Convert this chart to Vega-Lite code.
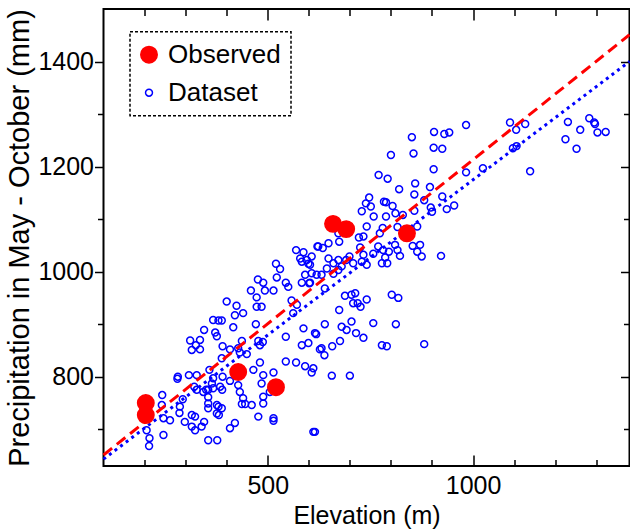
{
  "$schema": "https://vega.github.io/schema/vega-lite/v6.json",
  "width": 526,
  "height": 457,
  "autosize": {"type": "none"},
  "padding": {"left": 103.5, "top": 9, "right": 0.5, "bottom": 65},
  "background": "white",
  "datasets": {
    "pts": [
      {"s":"Dataset","elev":1090,"precip":1284},{"s":"Dataset","elev":1127,"precip":1281},{"s":"Dataset","elev":1105,"precip":1270},{"s":"Dataset","elev":983,"precip":1279},{"s":"Dataset","elev":905,"precip":1266},{"s":"Dataset","elev":930,"precip":1262},{"s":"Dataset","elev":942,"precip":1265},{"s":"Dataset","elev":851,"precip":1256},{"s":"Dataset","elev":1231,"precip":1285},{"s":"Dataset","elev":1283,"precip":1292},{"s":"Dataset","elev":1295,"precip":1284},{"s":"Dataset","elev":1297,"precip":1281},{"s":"Dataset","elev":1261,"precip":1270},{"s":"Dataset","elev":1303,"precip":1265},{"s":"Dataset","elev":1323,"precip":1266},{"s":"Dataset","elev":1225,"precip":1252},{"s":"Dataset","elev":1252,"precip":1234},{"s":"Dataset","elev":1097,"precip":1235},{"s":"Dataset","elev":1106,"precip":1239},{"s":"Dataset","elev":904,"precip":1236},{"s":"Dataset","elev":925,"precip":1234},{"s":"Dataset","elev":855,"precip":1225},{"s":"Dataset","elev":800,"precip":1222},{"s":"Dataset","elev":1139,"precip":1191},{"s":"Dataset","elev":1024,"precip":1197},{"s":"Dataset","elev":983,"precip":1189},{"s":"Dataset","elev":904,"precip":1195},{"s":"Dataset","elev":770,"precip":1184},{"s":"Dataset","elev":792,"precip":1177},{"s":"Dataset","elev":859,"precip":1168},{"s":"Dataset","elev":820,"precip":1157},{"s":"Dataset","elev":895,"precip":1161},{"s":"Dataset","elev":857,"precip":1147},{"s":"Dataset","elev":925,"precip":1143},{"s":"Dataset","elev":881,"precip":1136},{"s":"Dataset","elev":747,"precip":1141},{"s":"Dataset","elev":739,"precip":1130},{"s":"Dataset","elev":751,"precip":1124},{"s":"Dataset","elev":729,"precip":1115},{"s":"Dataset","elev":783,"precip":1133},{"s":"Dataset","elev":788,"precip":1132},{"s":"Dataset","elev":804,"precip":1125},{"s":"Dataset","elev":897,"precip":1122},{"s":"Dataset","elev":900,"precip":1114},{"s":"Dataset","elev":936,"precip":1119},{"s":"Dataset","elev":954,"precip":1126},{"s":"Dataset","elev":857,"precip":1116},{"s":"Dataset","elev":788,"precip":1105},{"s":"Dataset","elev":811,"precip":1111},{"s":"Dataset","elev":829,"precip":1108},{"s":"Dataset","elev":758,"precip":1105},{"s":"Dataset","elev":741,"precip":1086},{"s":"Dataset","elev":864,"precip":1086},{"s":"Dataset","elev":780,"precip":1083},{"s":"Dataset","elev":773,"precip":1073},{"s":"Dataset","elev":816,"precip":1085},{"s":"Dataset","elev":722,"precip":1065},{"s":"Dataset","elev":733,"precip":1067},{"s":"Dataset","elev":672,"precip":1073},{"s":"Dataset","elev":674,"precip":1057},{"s":"Dataset","elev":648,"precip":1054},{"s":"Dataset","elev":623,"precip":1048},{"s":"Dataset","elev":634,"precip":1045},{"s":"Dataset","elev":607,"precip":1029},{"s":"Dataset","elev":725,"precip":1046},{"s":"Dataset","elev":733,"precip":1032},{"s":"Dataset","elev":757,"precip":1034},{"s":"Dataset","elev":769,"precip":1048},{"s":"Dataset","elev":781,"precip":1041},{"s":"Dataset","elev":795,"precip":1038},{"s":"Dataset","elev":786,"precip":1027},{"s":"Dataset","elev":810,"precip":1051},{"s":"Dataset","elev":816,"precip":1041},{"s":"Dataset","elev":822,"precip":1030},{"s":"Dataset","elev":853,"precip":1049},{"s":"Dataset","elev":871,"precip":1051},{"s":"Dataset","elev":864,"precip":1038},{"s":"Dataset","elev":875,"precip":1029},{"s":"Dataset","elev":922,"precip":1030},{"s":"Dataset","elev":648,"precip":1025},{"s":"Dataset","elev":660,"precip":1016},{"s":"Dataset","elev":672,"precip":1022},{"s":"Dataset","elev":691,"precip":1022},{"s":"Dataset","elev":699,"precip":1029},{"s":"Dataset","elev":708,"precip":1016},{"s":"Dataset","elev":729,"precip":1019},{"s":"Dataset","elev":741,"precip":1013},{"s":"Dataset","elev":778,"precip":1016},{"s":"Dataset","elev":791,"precip":1016},
      {"s":"Dataset","elev":520,"precip":1015},{"s":"Dataset","elev":530,"precip":1005},{"s":"Dataset","elev":569,"precip":1041},{"s":"Dataset","elev":587,"precip":1037},{"s":"Dataset","elev":579,"precip":1025},{"s":"Dataset","elev":595,"precip":1022},{"s":"Dataset","elev":603,"precip":1013},{"s":"Dataset","elev":621,"precip":1048},{"s":"Dataset","elev":522,"precip":989},{"s":"Dataset","elev":544,"precip":979},{"s":"Dataset","elev":550,"precip":971},{"s":"Dataset","elev":583,"precip":1019},{"s":"Dataset","elev":599,"precip":1015},{"s":"Dataset","elev":591,"precip":994},{"s":"Dataset","elev":583,"precip":979},{"s":"Dataset","elev":601,"precip":978},{"s":"Dataset","elev":619,"precip":994},{"s":"Dataset","elev":476,"precip":985},{"s":"Dataset","elev":489,"precip":979},{"s":"Dataset","elev":493,"precip":964},{"s":"Dataset","elev":459,"precip":964},{"s":"Dataset","elev":473,"precip":951},{"s":"Dataset","elev":485,"precip":933},{"s":"Dataset","elev":473,"precip":933},{"s":"Dataset","elev":514,"precip":964},{"s":"Dataset","elev":558,"precip":945},{"s":"Dataset","elev":571,"precip":937},{"s":"Dataset","elev":562,"precip":921},{"s":"Dataset","elev":400,"precip":943},{"s":"Dataset","elev":424,"precip":935},{"s":"Dataset","elev":420,"precip":917},{"s":"Dataset","elev":440,"precip":921},{"s":"Dataset","elev":367,"precip":908},{"s":"Dataset","elev":380,"precip":907},{"s":"Dataset","elev":388,"precip":907},{"s":"Dataset","elev":471,"precip":900},{"s":"Dataset","elev":416,"precip":894},{"s":"Dataset","elev":345,"precip":889},{"s":"Dataset","elev":372,"precip":884},{"s":"Dataset","elev":376,"precip":877},{"s":"Dataset","elev":544,"precip":876},{"s":"Dataset","elev":587,"precip":892},{"s":"Dataset","elev":618,"precip":881},{"s":"Dataset","elev":437,"precip":868},{"s":"Dataset","elev":311,"precip":869},{"s":"Dataset","elev":335,"precip":870},{"s":"Dataset","elev":315,"precip":851},{"s":"Dataset","elev":335,"precip":852},{"s":"Dataset","elev":325,"precip":860},{"s":"Dataset","elev":390,"precip":858},{"s":"Dataset","elev":408,"precip":852},{"s":"Dataset","elev":477,"precip":868},{"s":"Dataset","elev":488,"precip":866},{"s":"Dataset","elev":481,"precip":860},{"s":"Dataset","elev":583,"precip":860},{"s":"Dataset","elev":599,"precip":864},{"s":"Dataset","elev":428,"precip":854},{"s":"Dataset","elev":432,"precip":846},{"s":"Dataset","elev":449,"precip":843},{"s":"Dataset","elev":627,"precip":852},{"s":"Dataset","elev":388,"precip":835},{"s":"Dataset","elev":481,"precip":827},{"s":"Dataset","elev":544,"precip":829},{"s":"Dataset","elev":569,"precip":827},{"s":"Dataset","elev":591,"precip":820},{"s":"Dataset","elev":611,"precip":816},{"s":"Dataset","elev":607,"precip":808},{"s":"Dataset","elev":281,"precip":800},{"s":"Dataset","elev":280,"precip":796},{"s":"Dataset","elev":308,"precip":803},{"s":"Dataset","elev":327,"precip":803},{"s":"Dataset","elev":358,"precip":813},{"s":"Dataset","elev":367,"precip":797},{"s":"Dataset","elev":364,"precip":787},{"s":"Dataset","elev":367,"precip":778},{"s":"Dataset","elev":355,"precip":775},{"s":"Dataset","elev":390,"precip":800},{"s":"Dataset","elev":408,"precip":792},{"s":"Dataset","elev":465,"precip":813},{"s":"Dataset","elev":489,"precip":803},{"s":"Dataset","elev":485,"precip":787},{"s":"Dataset","elev":514,"precip":808},{"s":"Dataset","elev":243,"precip":765},{"s":"Dataset","elev":242,"precip":746},{"s":"Dataset","elev":246,"precip":721},{"s":"Dataset","elev":262,"precip":717},{"s":"Dataset","elev":293,"precip":757},{"s":"Dataset","elev":286,"precip":743},{"s":"Dataset","elev":285,"precip":731},{"s":"Dataset","elev":321,"precip":781},{"s":"Dataset","elev":327,"precip":775},{"s":"Dataset","elev":343,"precip":771},{"s":"Dataset","elev":355,"precip":761},{"s":"Dataset","elev":350,"precip":775},{"s":"Dataset","elev":384,"precip":781},{"s":"Dataset","elev":389,"precip":775},{"s":"Dataset","elev":428,"precip":784},{"s":"Dataset","elev":432,"precip":771},{"s":"Dataset","elev":440,"precip":759},{"s":"Dataset","elev":445,"precip":748},{"s":"Dataset","elev":437,"precip":748},{"s":"Dataset","elev":461,"precip":746},{"s":"Dataset","elev":489,"precip":762},{"s":"Dataset","elev":489,"precip":749},{"s":"Dataset","elev":505,"precip":771},{"s":"Dataset","elev":355,"precip":749},{"s":"Dataset","elev":355,"precip":740},{"s":"Dataset","elev":376,"precip":746},{"s":"Dataset","elev":380,"precip":743},{"s":"Dataset","elev":388,"precip":740},{"s":"Dataset","elev":376,"precip":730},{"s":"Dataset","elev":381,"precip":727},{"s":"Dataset","elev":315,"precip":727},{"s":"Dataset","elev":323,"precip":724},{"s":"Dataset","elev":298,"precip":714},{"s":"Dataset","elev":315,"precip":705},{"s":"Dataset","elev":323,"precip":698},{"s":"Dataset","elev":339,"precip":705},{"s":"Dataset","elev":345,"precip":714},{"s":"Dataset","elev":477,"precip":724},{"s":"Dataset","elev":514,"precip":721},{"s":"Dataset","elev":514,"precip":716},{"s":"Dataset","elev":420,"precip":712},{"s":"Dataset","elev":408,"precip":702},{"s":"Dataset","elev":205,"precip":698},{"s":"Dataset","elev":212,"precip":683},{"s":"Dataset","elev":211,"precip":668},{"s":"Dataset","elev":246,"precip":689},{"s":"Dataset","elev":355,"precip":679},{"s":"Dataset","elev":377,"precip":679},{"s":"Dataset","elev":615,"precip":695},
      {"s":"Dataset","elev":603,"precip":979},{"s":"Dataset","elev":607,"precip":997},{"s":"Dataset","elev":631,"precip":994},{"s":"Dataset","elev":644,"precip":1006},{"s":"Dataset","elev":672,"precip":1003},{"s":"Dataset","elev":660,"precip":996},{"s":"Dataset","elev":639,"precip":968},{"s":"Dataset","elev":688,"precip":954},{"s":"Dataset","elev":704,"precip":956},{"s":"Dataset","elev":713,"precip":959},{"s":"Dataset","elev":708,"precip":940},{"s":"Dataset","elev":719,"precip":940},{"s":"Dataset","elev":726,"precip":933},{"s":"Dataset","elev":741,"precip":947},{"s":"Dataset","elev":802,"precip":956},{"s":"Dataset","elev":818,"precip":950},{"s":"Dataset","elev":674,"precip":927},{"s":"Dataset","elev":615,"precip":883},{"s":"Dataset","elev":639,"precip":900},{"s":"Dataset","elev":680,"precip":895},{"s":"Dataset","elev":692,"precip":889},{"s":"Dataset","elev":704,"precip":905},{"s":"Dataset","elev":715,"precip":883},{"s":"Dataset","elev":733,"precip":874},{"s":"Dataset","elev":757,"precip":902},{"s":"Dataset","elev":812,"precip":900},{"s":"Dataset","elev":631,"precip":854},{"s":"Dataset","elev":638,"precip":841},{"s":"Dataset","elev":657,"precip":858},{"s":"Dataset","elev":676,"precip":868},{"s":"Dataset","elev":778,"precip":860},{"s":"Dataset","elev":790,"precip":858},{"s":"Dataset","elev":881,"precip":862},{"s":"Dataset","elev":656,"precip":802},{"s":"Dataset","elev":700,"precip":802},{"s":"Dataset","elev":611,"precip":695},{"s":"Dataset","elev":680,"precip":1010},
      {"s":"Observed","elev":203,"precip":750},{"s":"Observed","elev":203,"precip":727},{"s":"Observed","elev":428,"precip":809},{"s":"Observed","elev":520,"precip":780},{"s":"Observed","elev":659,"precip":1091},{"s":"Observed","elev":691,"precip":1081},{"s":"Observed","elev":839,"precip":1073}
    ],
    "fits": [
      {"fit":"Observed","elev":100,"precip":651},{"fit":"Observed","elev":1381,"precip":1451},
      {"fit":"Dataset","elev":100,"precip":643},{"fit":"Dataset","elev":1381,"precip":1400}
    ]
  },
  "layer": [
    {
      "data": {"name": "pts"},
      "transform": [{"filter": "datum.s == 'Dataset'"}],
      "mark": {"type": "point", "strokeWidth": 1.5, "opacity": 1},
      "encoding": {
        "x": {"field": "elev", "type": "quantitative", "scale": {"domain": [100, 1381], "nice": false, "zero": false},
              "axis": {"orient": "bottom", "values": [500, 1000], "format": "d", "tickSize": -11, "labelPadding": 18, "title": "Elevation (m)", "titlePadding": 5, "titleFontSize": 25}},
        "y": {"field": "precip", "type": "quantitative", "scale": {"domain": [630, 1500], "nice": false, "zero": false},
              "axis": {"orient": "left", "values": [800, 1000, 1200, 1400], "format": "d", "tickSize": 9, "labelPadding": 1, "title": "Precipitation in May - October (mm)", "titlePadding": 3, "titleFontSize": 29}},
        "fill": {"field": "s", "type": "nominal", "scale": {"domain": ["Observed", "Dataset"], "range": ["#ff0000", "transparent"]},
                 "legend": {"orient": "none", "legendX": 26.5, "legendY": 22.7, "title": null,
                            "encode": {"labels": {"update": {"text": {"signal": "datum.label + '\u2003\u2003'"}}}}}},
        "stroke": {"field": "s", "type": "nominal", "scale": {"domain": ["Observed", "Dataset"], "range": ["#ff0000", "#0000ff"]},
                 "legend": {"orient": "none", "legendX": 26.5, "legendY": 22.7, "title": null,
                            "encode": {"labels": {"update": {"text": {"signal": "datum.label + '\u2003\u2003'"}}}}}},
        "size": {"field": "s", "type": "nominal", "scale": {"domain": ["Observed", "Dataset"], "range": [270, 48]},
                 "legend": {"orient": "none", "legendX": 26.5, "legendY": 22.7, "title": null,
                            "encode": {"labels": {"update": {"text": {"signal": "datum.label + '\u2003\u2003'"}}}}}}
      }
    },
    {
      "data": {"name": "fits"},
      "transform": [{"filter": "datum.fit == 'Observed'"}],
      "mark": {"type": "line", "color": "#ff0000", "strokeWidth": 3, "strokeDash": [11, 6]},
      "encoding": {
        "x": {"field": "elev", "type": "quantitative", "scale": {"domain": [100, 1381], "nice": false, "zero": false},
              "axis": {"orient": "bottom", "values": [200, 300, 400, 600, 700, 800, 900, 1100, 1200, 1300], "tickSize": -6.5, "labels": false, "title": null}},
        "y": {"field": "precip", "type": "quantitative", "scale": {"domain": [630, 1500], "nice": false, "zero": false},
              "axis": {"orient": "left", "values": [700, 900, 1100, 1300], "tickSize": 6, "labels": false, "title": null}}
      }
    },
    {
      "data": {"name": "fits"},
      "transform": [{"filter": "datum.fit == 'Dataset'"}],
      "mark": {"type": "line", "color": "#0000ff", "strokeWidth": 3, "strokeDash": [3, 4]},
      "encoding": {
        "x": {"field": "elev", "type": "quantitative", "scale": {"domain": [100, 1381], "nice": false, "zero": false},
              "axis": {"orient": "top", "values": [500, 1000], "tickSize": -11, "labels": false, "title": null}},
        "y": {"field": "precip", "type": "quantitative", "scale": {"domain": [630, 1500], "nice": false, "zero": false},
              "axis": {"orient": "right", "values": [800, 1000, 1200, 1400], "tickSize": -9, "labels": false, "title": null}}
      }
    },
    {
      "data": {"name": "pts"},
      "transform": [{"filter": "datum.s == 'Observed'"}],
      "mark": {"type": "point", "strokeWidth": 1.5, "opacity": 1},
      "encoding": {
        "x": {"field": "elev", "type": "quantitative", "scale": {"domain": [100, 1381], "nice": false, "zero": false},
              "axis": {"orient": "top", "values": [200, 300, 400, 600, 700, 800, 900, 1100, 1200, 1300], "tickSize": -6.5, "labels": false, "title": null}},
        "y": {"field": "precip", "type": "quantitative", "scale": {"domain": [630, 1500], "nice": false, "zero": false},
              "axis": {"orient": "right", "values": [700, 900, 1100, 1300], "tickSize": -6, "labels": false, "title": null}},
        "fill": {"field": "s", "type": "nominal", "scale": {"domain": ["Observed", "Dataset"], "range": ["#ff0000", "transparent"]},
                 "legend": {"orient": "none", "legendX": 26.5, "legendY": 22.7, "title": null,
                            "encode": {"labels": {"update": {"text": {"signal": "datum.label + '\u2003\u2003'"}}}}}},
        "stroke": {"field": "s", "type": "nominal", "scale": {"domain": ["Observed", "Dataset"], "range": ["#ff0000", "#0000ff"]},
                 "legend": {"orient": "none", "legendX": 26.5, "legendY": 22.7, "title": null,
                            "encode": {"labels": {"update": {"text": {"signal": "datum.label + '\u2003\u2003'"}}}}}},
        "size": {"field": "s", "type": "nominal", "scale": {"domain": ["Observed", "Dataset"], "range": [270, 48]},
                 "legend": {"orient": "none", "legendX": 26.5, "legendY": 22.7, "title": null,
                            "encode": {"labels": {"update": {"text": {"signal": "datum.label + '\u2003\u2003'"}}}}}}
      }
    }
  ],
  "resolve": {"axis": {"x": "independent", "y": "independent"}},
  "config": {
    "view": {"stroke": "black", "strokeWidth": 2},
    "font": "Liberation Sans",
    "axis": {
      "domain": false, "grid": false,
      "tickColor": "black", "tickWidth": 1.5,
      "labelFont": "Liberation Sans", "labelFontSize": 25, "labelColor": "black",
      "titleFont": "Liberation Sans", "titleFontWeight": "normal", "titleColor": "black"
    },
    "legend": {
      "strokeColor": "black", "strokeDash": [3, 2], "strokeWidth": 1.5, "fillColor": "white",
      "padding": 10, "rowPadding": 12, "labelOffset": 6, "symbolOffset": -4,
      "labelFont": "Liberation Sans", "labelFontSize": 26, "labelColor": "black",
      "symbolStrokeWidth": 1.5, "symbolType": "circle"
    }
  }
}
